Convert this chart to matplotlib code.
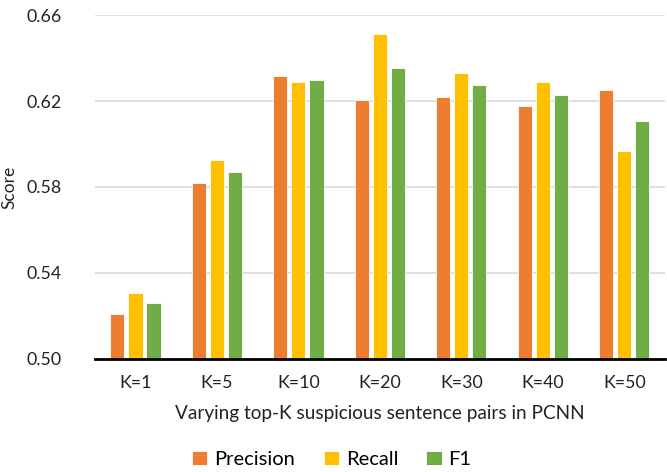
import matplotlib.pyplot as plt
import numpy as np

categories = ["K=1", "K=5", "K=10", "K=20", "K=30", "K=40", "K=50"]
precision = [0.5208, 0.5820, 0.6315, 0.6203, 0.6218, 0.6175, 0.6253]
recall = [0.5307, 0.5924, 0.6287, 0.6511, 0.6332, 0.6287, 0.5969]
f1 = [0.5258, 0.5871, 0.6299, 0.6353, 0.6274, 0.6229, 0.6109]
yticks = [0.50, 0.54, 0.58, 0.62, 0.66]

plt.rcParams['font.family'] = ['Lato', 'DejaVu Sans']

fig = plt.figure(figsize=(6.67, 4.72), dpi=100)
ax = fig.add_axes([0.142, 0.240, 0.855, 0.728])

x = np.arange(len(categories))
w = 0.174
pitch = 0.222
ax.bar(x - pitch, precision, w, color="#ED7D31", edgecolor="white", linewidth=0.6, label="Precision", zorder=3)
ax.bar(x, recall, w, color="#FFC000", edgecolor="white", linewidth=0.6, label="Recall", zorder=3)
ax.bar(x + pitch, f1, w, color="#70AD47", edgecolor="white", linewidth=0.6, label="F1", zorder=3)

ax.set_ylim(0.50, 0.66)
ax.set_xlim(-0.5, len(categories) - 0.5)
ax.set_yticks(yticks)
ax.set_yticklabels(["%.2f" % v for v in yticks], fontsize=12.8, color="#222222")
ax.set_xticks(x)
ax.set_xticklabels(categories, fontsize=12.8, color="#222222")
ax.tick_params(axis="x", length=0, pad=12)
ax.tick_params(axis="y", length=0, pad=24)
ax.grid(axis="y", color="#d9d9d9", linewidth=1.2, zorder=0)
for s in ["top", "right", "left"]:
    ax.spines[s].set_visible(False)
ax.spines["bottom"].set_linewidth(2)
ax.spines["bottom"].set_color("black")
ax.spines["bottom"].set_zorder(4)

ax.set_xlabel("Varying top-K suspicious sentence pairs in PCNN", fontsize=13.7, color="#222222", labelpad=10)
ax.set_ylabel("Score", fontsize=12.5, color="#222222", labelpad=6)

ax.legend(loc="upper center", bbox_to_anchor=(0.416, -0.215), ncol=3, frameon=False,
          fontsize=14.5, handlelength=0.75, handleheight=0.75, handletextpad=0.35,
          columnspacing=1.4)

plt.savefig("out.png", dpi=100)
